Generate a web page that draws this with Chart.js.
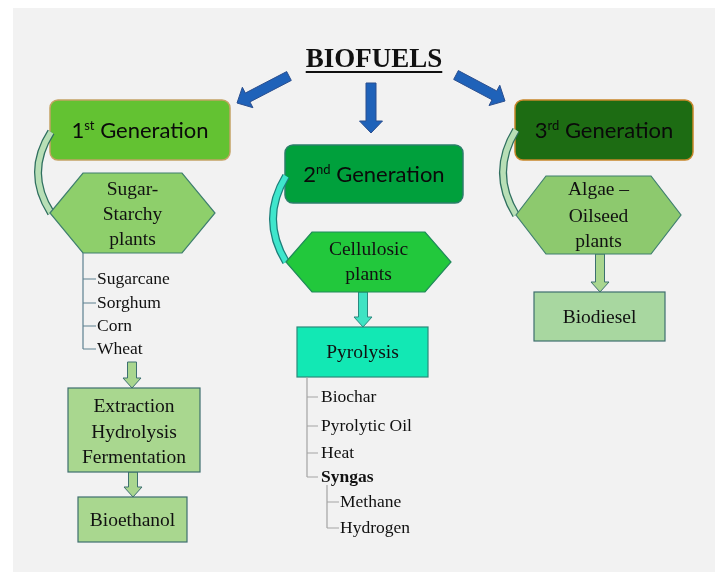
<!DOCTYPE html>
<html>
<head>
<meta charset="utf-8">
<script src="https://cdn.jsdelivr.net/npm/chart.js@4"></script>
<style>
  body { margin: 0; background: #ffffff; }
  #wrap { width: 715px; height: 572px; }
</style>
</head>
<body>
<div id="wrap"><canvas id="diagram" width="715" height="572"></canvas></div>
<script>
// Biofuels flow diagram drawn on a hidden-axis scatter chart
const title = 'BIOFUELS';
const genNumbers = ['1', '2', '3'];
const genSuffixes = ['st', 'nd', 'rd'];
const feedstocks = [['Sugar-', 'Starchy', 'plants'], ['Cellulosic', 'plants'], ['Algae –', 'Oilseed', 'plants']];
const firstGenCrops = ['Sugarcane', 'Sorghum', 'Corn', 'Wheat'];
const firstGenSteps = ['Extraction', 'Hydrolysis', 'Fermentation'];
const firstGenProduct = 'Bioethanol';
const secondGenProcess = 'Pyrolysis';
const pyrolysisProducts = ['Biochar', 'Pyrolytic Oil', 'Heat', 'Syngas'];
const syngasParts = ['Methane', 'Hydrogen'];
const thirdGenProduct = 'Biodiesel';

// layout of the diagram in scale units (x 0..715, y 0..572 top-down)
const genBoxes = [
    { x: 50, y: 100, w: 180, h: 60, fill: '#63c232', stroke: '#c4a364' },
    { x: 285, y: 145, w: 178, h: 58, fill: '#00a03c', stroke: '#2b7f6a' },
    { x: 515, y: 100, w: 178, h: 60, fill: '#1d6c13', stroke: '#c8862a' }
];
const hexes = [
    { x: 50, y: 173, w: 165, h: 80, inset: 33, fill: '#8ecf6b', stroke: '#3f7f6f', lines: [190, 215, 240] },
    { x: 286, y: 232, w: 165, h: 60, inset: 26, fill: '#22c83c', stroke: '#1f8a5a', lines: [250, 275] },
    { x: 516, y: 176, w: 165, h: 78, inset: 30, fill: '#8dc96e', stroke: '#3f7f6f', lines: [190, 217, 242] }
];
const connectors = [
    { x: 51, y1: 132, y2: 213, cx: 25, fill: '#b8dfb6', stroke: '#2f6f5f' },
    { x: 286, y1: 176, y2: 262, cx: 260, fill: '#3fe6cc', stroke: '#1c7f7a' },
    { x: 516, y1: 130, y2: 215, cx: 490, fill: '#b8dfb6', stroke: '#2f6f5f' }
];
const rectBoxes = [
    { x: 68, y: 388, w: 132, h: 84, fill: '#a9d78f', stroke: '#3e6e6e', lines: firstGenSteps, ly: [407, 433, 458] },
    { x: 78, y: 497, w: 109, h: 45, fill: '#a9d78f', stroke: '#3e6e6e', lines: [firstGenProduct], ly: [521] },
    { x: 297, y: 327, w: 131, h: 50, fill: '#12e8b4', stroke: '#2a8a7a', lines: [secondGenProcess], ly: [353] },
    { x: 534, y: 292, w: 131, h: 49, fill: '#a8d7a0', stroke: '#3e6e6e', lines: [thirdGenProduct], ly: [318] }
];
const blueArrows = [
    { x1: 289, y1: 76, x2: 237, y2: 103 },
    { x1: 371, y1: 83, x2: 371, y2: 133 },
    { x1: 456, y1: 75, x2: 505, y2: 101 }
];
const greenArrows = [
    { x: 132, y1: 362, y2: 388, fill: '#a9d68f', stroke: '#3d7070' },
    { x: 133, y1: 472, y2: 497, fill: '#a9d68f', stroke: '#3d7070' },
    { x: 363, y1: 292, y2: 327, fill: '#3fe3c3', stroke: '#2a8a80' },
    { x: 600, y1: 254, y2: 292, fill: '#a9d68f', stroke: '#3d7070' }
];

const SERIF = '"Liberation Serif", "DejaVu Serif", serif';
const SANS = 'Lato, "Open Sans", sans-serif';

function blockArrow(ctx, x1, y1, x2, y2, shaft, head, headLen) {
    const dx = x2 - x1, dy = y2 - y1;
    const len = Math.hypot(dx, dy);
    const ux = dx / len, uy = dy / len;
    const nx = -uy, ny = ux;
    const bx = x2 - ux * headLen, by = y2 - uy * headLen;
    ctx.beginPath();
    ctx.moveTo(x1 + nx * shaft / 2, y1 + ny * shaft / 2);
    ctx.lineTo(bx + nx * shaft / 2, by + ny * shaft / 2);
    ctx.lineTo(bx + nx * head / 2, by + ny * head / 2);
    ctx.lineTo(x2, y2);
    ctx.lineTo(bx - nx * head / 2, by - ny * head / 2);
    ctx.lineTo(bx - nx * shaft / 2, by - ny * shaft / 2);
    ctx.lineTo(x1 - nx * shaft / 2, y1 - ny * shaft / 2);
    ctx.closePath();
}

function roundRect(ctx, x, y, w, h, r) {
    ctx.beginPath();
    ctx.moveTo(x + r, y);
    ctx.arcTo(x + w, y, x + w, y + h, r);
    ctx.arcTo(x + w, y + h, x, y + h, r);
    ctx.arcTo(x, y + h, x, y, r);
    ctx.arcTo(x, y, x + w, y, r);
    ctx.closePath();
}

const diagramPlugin = {
    id: 'diagram',
    beforeDatasetsDraw(chart) {
        const ctx = chart.ctx;
        const sx = chart.scales.x, sy = chart.scales.y;
        const px = v => sx.getPixelForValue(v);
        const py = v => sy.getPixelForValue(v);
        ctx.save();

        // gray panel
        ctx.fillStyle = '#f2f2f2';
        ctx.fillRect(px(13), py(8), px(715) - px(13), py(572) - py(8));

        // title
        ctx.fillStyle = '#111';
        ctx.font = 'bold 27px ' + SERIF;
        ctx.textAlign = 'center';
        ctx.textBaseline = 'alphabetic';
        ctx.fillText(title, px(374), py(67));
        const tw = ctx.measureText(title).width;
        ctx.fillRect(px(374) - tw / 2, py(71), tw, 2);

        // blue arrows
        blueArrows.forEach(a => {
            blockArrow(ctx, px(a.x1), py(a.y1), px(a.x2), py(a.y2), 10, 23, 12);
            ctx.fillStyle = '#1f62b9';
            ctx.fill();
            ctx.strokeStyle = '#2b4f8f';
            ctx.lineWidth = 1;
            ctx.stroke();
        });

        // generation boxes
        genBoxes.forEach((b, i) => {
            roundRect(ctx, px(b.x), py(b.y), px(b.x + b.w) - px(b.x), py(b.y + b.h) - py(b.y), 8);
            ctx.fillStyle = b.fill;
            ctx.fill();
            ctx.strokeStyle = b.stroke;
            ctx.lineWidth = 1.5;
            ctx.stroke();
            const big = '22px ' + SANS, small = '13px ' + SANS;
            ctx.font = big;
            const w1 = ctx.measureText(genNumbers[i]).width;
            const w3 = ctx.measureText(' Generation').width;
            ctx.font = small;
            const w2 = ctx.measureText(genSuffixes[i]).width;
            let x = px(b.x + b.w / 2) - (w1 + w2 + w3) / 2;
            const base = py(b.y + b.h / 2) + 8;
            ctx.textAlign = 'left';
            ctx.fillStyle = '#0a0a0a';
            ctx.font = big;
            ctx.fillText(genNumbers[i], x, base);
            x += w1;
            ctx.font = small;
            ctx.fillText(genSuffixes[i], x, base - 8);
            x += w2;
            ctx.font = big;
            ctx.fillText(' Generation', x, base);
        });

        // curved connectors
        connectors.forEach(c => {
            ctx.beginPath();
            ctx.moveTo(px(c.x), py(c.y1));
            ctx.quadraticCurveTo(px(c.cx), py((c.y1 + c.y2) / 2), px(c.x), py(c.y2));
            ctx.lineCap = 'butt';
            ctx.strokeStyle = c.stroke;
            ctx.lineWidth = 8;
            ctx.stroke();
            ctx.strokeStyle = c.fill;
            ctx.lineWidth = 5.5;
            ctx.stroke();
        });

        // green down arrows
        greenArrows.forEach(a => {
            blockArrow(ctx, px(a.x), py(a.y1), px(a.x), py(a.y2), 9, 18, 10);
            ctx.fillStyle = a.fill;
            ctx.fill();
            ctx.strokeStyle = a.stroke;
            ctx.lineWidth = 1;
            ctx.stroke();
        });

        // feedstock hexagons
        hexes.forEach((h, i) => {
            const l = px(h.x), r = px(h.x + h.w), t = py(h.y), b = py(h.y + h.h);
            const m = (t + b) / 2, ins = px(h.x + h.inset) - l;
            ctx.beginPath();
            ctx.moveTo(l, m);
            ctx.lineTo(l + ins, t);
            ctx.lineTo(r - ins, t);
            ctx.lineTo(r, m);
            ctx.lineTo(r - ins, b);
            ctx.lineTo(l + ins, b);
            ctx.closePath();
            ctx.fillStyle = h.fill;
            ctx.fill();
            ctx.strokeStyle = h.stroke;
            ctx.lineWidth = 1.2;
            ctx.stroke();
            ctx.fillStyle = '#111';
            ctx.font = '19.5px ' + SERIF;
            ctx.textAlign = 'center';
            ctx.textBaseline = 'middle';
            feedstocks[i].forEach((s, k) => ctx.fillText(s, px(h.x + h.w / 2), py(h.lines[k])));
        });

        // process and product boxes
        rectBoxes.forEach(b => {
            ctx.fillStyle = b.fill;
            ctx.fillRect(px(b.x), py(b.y), px(b.x + b.w) - px(b.x), py(b.y + b.h) - py(b.y));
            ctx.strokeStyle = b.stroke;
            ctx.lineWidth = 1.2;
            ctx.strokeRect(px(b.x), py(b.y), px(b.x + b.w) - px(b.x), py(b.y + b.h) - py(b.y));
            ctx.fillStyle = '#111';
            ctx.font = '19.5px ' + SERIF;
            ctx.textAlign = 'center';
            ctx.textBaseline = 'middle';
            b.lines.forEach((s, k) => ctx.fillText(s, px(b.x + b.w / 2), py(b.ly[k])));
        });

        // tree lists
        function tree(x, top, items, ys, tickTo, textX, color, boldLast) {
            ctx.strokeStyle = color;
            ctx.lineWidth = 1.2;
            ctx.beginPath();
            ctx.moveTo(px(x), py(top));
            ctx.lineTo(px(x), py(ys[ys.length - 1]));
            ys.forEach(y => {
                ctx.moveTo(px(x), py(y));
                ctx.lineTo(px(tickTo), py(y));
            });
            ctx.stroke();
            ctx.fillStyle = '#111';
            ctx.textAlign = 'left';
            ctx.textBaseline = 'middle';
            items.forEach((s, k) => {
                const bold = boldLast && k === items.length - 1;
                ctx.font = (bold ? 'bold ' : '') + '17.5px ' + SERIF;
                ctx.fillText(s, px(textX), py(ys[k]));
            });
        }
        tree(83, 253, firstGenCrops, [279, 303, 326, 349], 96, 97, '#5d8090', false);
        tree(307, 377, pyrolysisProducts, [397, 426, 453, 477], 318, 321, '#a3a3a3', true);
        tree(327, 485, syngasParts, [502, 528], 339, 340, '#a3a3a3', false);

        ctx.restore();
    }
};

new Chart(document.getElementById('diagram'), {
    type: 'scatter',
    data: {
        datasets: [{
            data: genBoxes.map(b => ({ x: b.x + b.w / 2, y: b.y + b.h / 2 })),
            pointRadius: 0
        }]
    },
    options: {
        responsive: false,
        animation: false,
        devicePixelRatio: 1,
        layout: { padding: 0 },
        plugins: { legend: { display: false }, tooltip: { enabled: false } },
        scales: {
            x: { type: 'linear', min: 0, max: 715, display: false },
            y: { type: 'linear', min: 0, max: 572, reverse: true, display: false }
        }
    },
    plugins: [diagramPlugin]
});
</script>
</body>
</html>
